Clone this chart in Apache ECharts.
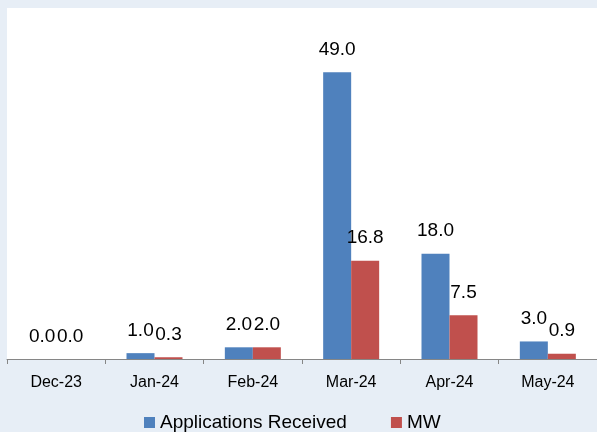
<!DOCTYPE html>
<html>
<head>
<meta charset="utf-8">
<script src="https://cdn.jsdelivr.net/npm/echarts@6/dist/echarts.min.js"></script>
<style>
html,body{margin:0;padding:0;background:#e7eef6;}
#c{width:597px;height:432px;}
</style>
</head>
<body>
<div id="c"></div>
<script>
var categories = ['Dec-23', 'Jan-24', 'Feb-24', 'Mar-24', 'Apr-24', 'May-24'];
var applications = [0.0, 1.0, 2.0, 49.0, 18.0, 3.0];
var mw = [0.0, 0.3, 2.0, 16.8, 7.5, 0.9];
var seriesNames = ['Applications Received', 'MW'];

var FONT = 'Liberation Sans';
var chart = echarts.init(document.getElementById('c'), null, {renderer: 'canvas'});
var labelCfg = {
  show: true, position: 'top', distance: 13,
  color: '#000', fontFamily: FONT, fontSize: 19,
  formatter: function (p) { return p.value.toFixed(1); }
};
chart.setOption({
  backgroundColor: '#e7eef6',
  animation: false,
  grid: {
    left: 7, top: 8, width: 594, height: 351,
    show: true, backgroundColor: '#ffffff', borderWidth: 0
  },
  legend: {
    left: 139, top: 408,
    itemWidth: 11, itemHeight: 11, itemGap: 44,
    icon: 'rect',
    textStyle: {fontFamily: FONT, fontSize: 19, color: '#000'},
    data: seriesNames
  },
  xAxis: {
    type: 'category',
    data: categories,
    axisLine: {show: true, lineStyle: {color: '#868686', width: 1}},
    axisTick: {show: true, length: 5, lineStyle: {color: '#868686'}},
    axisLabel: {color: '#000', fontFamily: FONT, fontSize: 16, margin: 16}
  },
  yAxis: {
    type: 'value', min: 0, max: 60, interval: 10,
    show: false, splitLine: {show: false}
  },
  series: [
    {
      name: seriesNames[0], type: 'bar', data: applications,
      barWidth: 28, barGap: '0%',
      itemStyle: {color: '#4f81bd'},
      label: labelCfg
    },
    {
      name: seriesNames[1], type: 'bar', data: mw,
      barWidth: 28, barGap: '0%',
      itemStyle: {color: '#c0504d'},
      label: labelCfg
    }
  ]
});
</script>
</body>
</html>
